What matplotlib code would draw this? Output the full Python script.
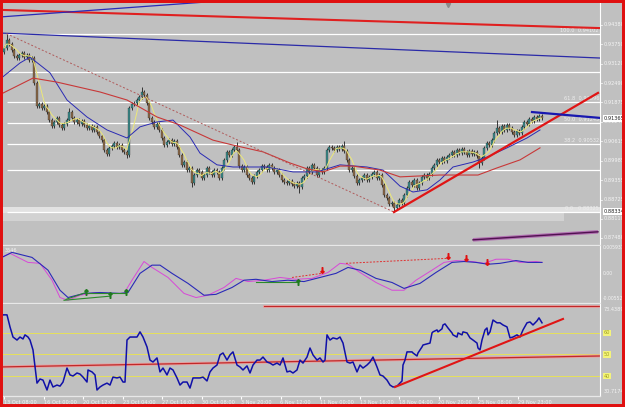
import matplotlib
matplotlib.use("Agg")
import matplotlib.pyplot as plt
import matplotlib.transforms as mtransforms
from matplotlib.patches import Rectangle
import numpy as np
import pandas as pd

# ---- price panel (x = bar number, 4H candles) ----
first_open = 0.9352
closes = [
    0.9363, 0.9389, 0.9376, 0.9357, 0.9338, 0.9331, 0.9341, 0.9347, 0.9334, 0.9341,
    0.9325, 0.9331, 0.9250, 0.9176, 0.9182, 0.9169, 0.9176, 0.9156, 0.9130, 0.9111,
    0.9124, 0.9137, 0.9114, 0.9105, 0.9117, 0.9130, 0.9156, 0.9137, 0.9124, 0.9130,
    0.9117, 0.9127, 0.9114, 0.9105, 0.9111, 0.9098, 0.9108, 0.9091, 0.9078, 0.9065,
    0.9033, 0.9020, 0.9040, 0.9046, 0.9056, 0.9043, 0.9049, 0.9033, 0.9027, 0.9017,
    0.9169, 0.9182, 0.9185, 0.9195, 0.9205, 0.9221, 0.9211, 0.9185, 0.9137, 0.9124,
    0.9108, 0.9117, 0.9098, 0.9072, 0.9049, 0.9059, 0.9065, 0.9052, 0.9062, 0.9043,
    0.9017, 0.8985, 0.8994, 0.8968, 0.8975, 0.8926, 0.8952, 0.8968, 0.8962, 0.8942,
    0.8952, 0.8975, 0.8962, 0.8952, 0.8968, 0.8962, 0.8942, 0.8975, 0.9001, 0.9027,
    0.9017, 0.9033, 0.9043, 0.9033, 0.8981, 0.8968, 0.8978, 0.8952, 0.8942, 0.8929,
    0.8949, 0.8962, 0.8968, 0.8981, 0.8978, 0.8968, 0.8985, 0.8975, 0.8962, 0.8968,
    0.8952, 0.8936, 0.8929, 0.8926, 0.8933, 0.8923, 0.8916, 0.8926, 0.8913, 0.8942,
    0.8949, 0.8975, 0.8962, 0.8985, 0.8975, 0.8952, 0.8968, 0.8962, 0.8975, 0.9033,
    0.9043, 0.9040, 0.9033, 0.9043, 0.9036, 0.9046, 0.9030, 0.9001, 0.8968, 0.8975,
    0.8949, 0.8926, 0.8936, 0.8942, 0.8952, 0.8936, 0.8946, 0.8955, 0.8962, 0.8942,
    0.8952, 0.8920, 0.8887, 0.8878, 0.8858, 0.8861, 0.8845, 0.8855, 0.8871, 0.8861,
    0.8887, 0.8910, 0.8929, 0.8920, 0.8936, 0.8910, 0.8926, 0.8946, 0.8952, 0.8942,
    0.8955, 0.8975, 0.8985, 0.9001, 0.8994, 0.9007, 0.8997, 0.9010, 0.9017, 0.9027,
    0.9017, 0.9033, 0.9023, 0.9036, 0.9027, 0.9017, 0.9030, 0.9020, 0.9027, 0.9014,
    0.8991, 0.9007, 0.9040, 0.9056, 0.9049, 0.9065, 0.9088, 0.9105, 0.9091, 0.9111,
    0.9098, 0.9114, 0.9105, 0.9091, 0.9082, 0.9095, 0.9088, 0.9108, 0.9124, 0.9117,
    0.9134, 0.9127, 0.9140, 0.9134, 0.9143, 0.9137,
]
high_marks = {1: 0.9410, 26: 0.9169, 55: 0.9237, 93: 0.9059, 136: 0.9062, 197: 0.9130}
low_marks = {49: 0.9007, 75: 0.8913, 118: 0.8894, 156: 0.8832, 190: 0.8975}

red_ma_bars = [-2, 11.6, 21.2, 38.4, 49.2, 61.2, 70.4, 83.6, 91.6, 103.6, 114.4,
               121.2, 127.6, 134.4, 139.6, 150.4, 158.4, 174.4, 189.6, 197.2, 206.4, 214.4]
red_ma_vals = [0.9211, 0.9266, 0.9253, 0.9221, 0.9195, 0.9140, 0.9114, 0.9065, 0.9049,
               0.9027, 0.8991, 0.8972, 0.8962, 0.8981, 0.8981, 0.8968, 0.8946, 0.8952,
               0.8952, 0.8975, 0.9001, 0.9040]
blue_ma_bars = [-2, 6.4, 10.4, 18.4, 25.2, 33.2, 41.2, 49.2, 54.4, 61.2, 67.6, 74.4,
                78.4, 85.2, 91.6, 105.2, 115.6, 125.2, 134.4, 145.2, 151.6, 158.4,
                163.6, 169.2, 174.4, 179.6, 187.6, 193.2, 201.2, 209.2, 214.4]
blue_ma_vals = [0.9260, 0.9315, 0.9334, 0.9283, 0.9195, 0.9140, 0.9098, 0.9072, 0.9108,
                0.9124, 0.9130, 0.9075, 0.9023, 0.8985, 0.8978, 0.8978, 0.8962, 0.8962,
                0.8985, 0.8978, 0.8968, 0.8916, 0.8897, 0.8904, 0.8936, 0.8978, 0.8994,
                0.9010, 0.9040, 0.9072, 0.9098]

fib_levels = [0.88325, 0.89688, 0.90532, 0.91214, 0.91896, 0.92866, 0.94102]
fib_labels = {0.88325: "0.0   0.88325", 0.90532: "38.2  0.90532",
              0.91214: "50.0  0.91245", 0.91896: "61.8  0.91896",
              0.94102: "100.0  0.94102"}

# trend lines (bar, price anchors)
red_top_line = ([-1.6, 238.4], [0.9487, 0.9428])
blue_top_line = ([-1.6, 80], [0.9464, 0.9512])
blue_long_line = ([-1.6, 238.4], [0.9412, 0.9331])
dashed_line = ([1, 156], [0.9410, 0.8832])
red_up_line = ([156, 237.6], [0.8832, 0.9218])
blue_short_line = ([211.2, 238.4], [0.9156, 0.9137])
purple_line = ([187.6, 237.6], [0.8742, 0.8768])

price_ticks = [0.94380, 0.93750, 0.93120, 0.92490, 0.91875, 0.91245,
               0.90615, 0.89985, 0.89355, 0.88725, 0.88110, 0.87480]
last_price = 0.91365
zone_price = 0.88334

# ---- oscillator panel ----
osc_blue_bars = [-1.6, 3.2, 11.2, 17.6, 22.4, 25.6, 32, 38.4, 46.4, 49.6, 54.4, 59.2,
                 62.4, 67.2, 73.6, 80, 84.8, 91.2, 96, 100.8, 107.2, 113.6, 120, 126.4,
                 132.8, 137.6, 142.4, 148.8, 155.2, 160, 166.4, 172.8, 179.2, 184,
                 188.8, 193.6, 198.4, 204.8, 209.6, 215.2]
osc_blue_vals = [0.0033, 0.0046, 0.0035, 0.0007, -0.0037, -0.0053, -0.0044, -0.0042,
                 -0.0044, -0.0042, 0.0, 0.0018, 0.0018, 0.0, -0.0022, -0.0048, -0.0046,
                 -0.0031, -0.0015, -0.0013, -0.0018, -0.0015, -0.0018, -0.0009, 0.0,
                 0.0013, 0.0007, -0.0011, -0.0020, -0.0033, -0.0022, 0.0002, 0.0024,
                 0.0026, 0.0024, 0.0020, 0.0022, 0.0028, 0.0024, 0.0024]
osc_pink_bars = [-1.6, 2.4, 9.6, 14.4, 19.2, 22.4, 25.6, 30.4, 36.8, 43.2, 48, 51.2, 56,
                 59.2, 65.6, 72, 76.8, 81.6, 88, 92.8, 97.6, 104, 110.4, 116.8, 123.2,
                 129.6, 134.4, 137.6, 142.4, 148.8, 155.2, 160, 164.8, 171.2, 176,
                 180.8, 187.2, 192, 196.8, 201.6, 206.4, 212.8, 215.2]
osc_pink_vals = [0.0033, 0.0044, 0.0024, 0.0022, -0.0015, -0.0053, -0.0059, -0.0048,
                 -0.0042, -0.0044, -0.0044, -0.0015, 0.0026, 0.0013, -0.0009, -0.0044,
                 -0.0053, -0.0048, -0.0031, -0.0011, -0.0018, -0.0015, -0.0009, -0.0013,
                 -0.0011, 0.0002, 0.0022, 0.0020, 0.0002, -0.0020, -0.0037, -0.0037,
                 -0.0015, 0.0007, 0.0024, 0.0028, 0.0026, 0.0022, 0.0031, 0.0031,
                 0.0024, 0.0026, 0.0024]
green_div = [([24, 42.4], [-0.0059, -0.0050]), ([24.8, 32.8], [-0.0057, -0.0042]),
             ([32.8, 48.8], [-0.0042, -0.0042]), ([100.8, 117.6], [-0.0020, -0.0020])]
green_marks = ([32.8, 42.4, 48.8, 117.6], [-0.0040, -0.0048, -0.0040, -0.0020])
red_div = [([115.2, 127.2], [-0.0009, 0.0]), ([136.8, 177.6], [0.0022, 0.0033])]
red_marks = ([127.2, 177.6, 184.8, 193.2], [0.0007, 0.0037, 0.0033, 0.0024])

# ---- RSI panel ----
rsi_bars = [-1.6, -0.4, 1.2, 2.4, 3.6, 5.2, 6.4, 7.6, 8.4, 9.6, 10.4, 11.6, 12.4, 13.2,
            14.4, 15.6, 17.2, 18.4, 19.6, 21.2, 22.4, 23.6, 25.2, 26.4, 27.6, 29.2,
            30.4, 31.6, 33.2, 33.6, 35.2, 36.4, 37.2, 38.4, 39.6, 41.2, 42.4, 43.6,
            45.2, 46.4, 47.6, 48.4, 49.2, 50.4, 51.6, 53.2, 54.4, 55.6, 57.2, 58.4,
            59.6, 61.2, 62.4, 63.6, 65.2, 66.4, 67.6, 69.2, 70.4, 71.6, 73.2, 74.4,
            75.6, 77.2, 78.4, 79.6, 81.2, 82.4, 83.6, 85.2, 86.4, 87.6, 89.2, 90.4,
            91.6, 93.2, 94.4, 95.6, 97.2, 98.4, 99.6, 101.2, 102.4, 103.6, 105.2,
            106.4, 107.6, 109.2, 110.4, 111.6, 113.2, 114.4, 115.6, 117.2, 118.4,
            119.6, 121.2, 122.4, 123.6, 125.2, 126.4, 127.6, 128.4, 129.2, 130.4,
            131.6, 133.2, 134.4, 135.6, 137.2, 138.4, 139.6, 141.2, 142.4, 143.6,
            145.2, 146.4, 147.6, 149.2, 150.4, 151.6, 153.2, 154.4, 155.6, 157.2,
            158.4, 159.2, 159.6, 160.4, 161.2, 161.6, 163.2, 163.6, 165.2, 165.6,
            167.2, 167.6, 169.2, 170.4, 171.2, 171.6, 173.2, 173.6, 175.2, 175.6,
            176.4, 177.6, 179.2, 179.6, 181.2, 181.6, 183.2, 183.6, 185.2, 186.4,
            187.6, 189.2, 189.6, 190.4, 191.2, 192.4, 193.2, 193.6, 194.4, 195.6,
            197.2, 198.4, 199.6, 201.2, 202.4, 203.6, 205.2, 206.4, 207.6, 209.2,
            210.4, 211.6, 213.2, 214, 215.2]
rsi_vals = [67.0, 68.4, 68.4, 62.8, 58.1, 56.7, 58.1, 57.2, 59.1, 58.1, 56.7, 52.1, 44.2,
            36.7, 38.6, 38.1, 33.5, 38.1, 34.9, 35.8, 35.3, 37.2, 43.7, 40.5, 40.0, 41.4,
            40.9, 39.5, 37.2, 42.8, 41.9, 40.5, 33.5, 34.9, 35.8, 36.7, 35.8, 39.5, 39.1,
            39.5, 37.2, 37.2, 56.7, 58.1, 58.1, 58.1, 60.5, 58.1, 53.5, 47.4, 46.5, 48.4,
            41.9, 43.7, 40.5, 43.7, 42.8, 39.1, 35.8, 37.2, 37.2, 34.4, 39.1, 39.1, 39.1,
            39.5, 37.7, 41.9, 43.7, 45.1, 49.8, 50.7, 47.4, 49.8, 51.2, 45.1, 44.2, 42.8,
            44.7, 41.4, 45.1, 47.4, 47.4, 48.8, 46.5, 46.0, 45.1, 46.0, 45.1, 48.4, 41.9,
            42.3, 41.4, 42.8, 47.4, 46.0, 48.8, 53.0, 49.8, 47.4, 48.4, 46.5, 47.4, 59.1,
            56.7, 57.7, 57.2, 58.1, 55.3, 46.5, 46.0, 46.5, 41.9, 45.1, 43.7, 45.1, 46.5,
            48.8, 44.2, 40.5, 40.0, 38.1, 35.8, 34.9, 35.3, 36.7, 37.7, 45.1, 47.4, 51.2,
            51.2, 51.2, 50.7, 49.3, 50.7, 53.5, 54.4, 54.9, 55.3, 60.0, 60.5, 61.4, 60.5,
            61.9, 63.7, 64.2, 62.3, 60.0, 59.1, 58.1, 60.0, 59.1, 60.5, 60.0, 57.7, 56.7,
            55.3, 53.0, 52.1, 56.7, 61.4, 62.3, 59.1, 60.5, 66.0, 64.7, 64.7, 63.7, 62.8,
            57.7, 58.1, 59.1, 58.1, 61.4, 64.7, 65.1, 63.7, 65.6, 67.0, 64.7]
rsi_levels = [40, 50, 60]
rsi_ma_line = ([-1.6, 238.4], [44.2, 49.3])
rsi_top_line = ([104, 240], [72.6, 72.6])
rsi_up_line = ([156.4, 223.6], [34.9, 66.5])
rsi_range = (30.7174, 73.4389)

time_ticks = [15.8 * k for k in range(14)]
time_labels = ["13 Oct 08:00", "16 Oct 00:00", "20 Oct 12:00", "23 Oct 04:00",
               "27 Oct 16:00", "30 Oct 08:00", "3 Nov 20:00", "6 Nov 12:00",
               "11 Nov 00:00", "13 Nov 16:00", "18 Nov 04:00", "20 Nov 20:00",
               "25 Nov 08:00", "29 Nov 23:00"]

BG = "#c0c0c0"
TXT = "#f4f4f4"
FS = 3.6
W, H = 625, 407

fig = plt.figure(figsize=(W / 100, H / 100), dpi=100, facecolor=BG)


def panel(top, bottom):
    ax = fig.add_axes([3 / W, 1 - bottom / H, 597 / W, (bottom - top) / H])
    ax.set_facecolor(BG)
    for s in ["top", "left"]:
        ax.spines[s].set_visible(False)
    ax.spines["right"].set_color("white")
    ax.spines["bottom"].set_color("#e8e8e8")
    ax.spines["right"].set_linewidth(0.8)
    ax.spines["bottom"].set_linewidth(0.9)
    ax.set_xlim(-0.4, 238.4)
    ax.set_yticks([])
    ax.set_xticks([])
    return ax


ax_p = panel(2, 245)
ax_o = panel(246, 303)
ax_r = panel(304, 396)

# ---------------- price panel ----------------
ax_p.set_ylim(0.87253, 0.95125)
pt = mtransforms.blended_transform_factory(ax_p.transAxes, ax_p.transData)

ax_p.add_patch(Rectangle((-1, 0.8829), 241, 0.00195, color="#e2e2e2", lw=0, zorder=0.5))
ax_p.add_patch(Rectangle((-1, 0.88035), 225, 0.00255, color="#d2d2d2", lw=0, zorder=0.5))
ax_p.hlines(fib_levels, 1, 240, color="white", lw=0.9, zorder=1)
for lv, lab in fib_labels.items():
    ax_p.text(238, lv + 0.0002, lab, ha="right", va="bottom", fontsize=FS,
              color="#eeeeee", zorder=1)

c = np.array(closes)
o = np.concatenate([[first_open], c[:-1]])
idx = np.arange(len(c))
hi = np.maximum(o, c) + 0.0007
lo = np.minimum(o, c) - 0.0007
for k, v in high_marks.items():
    hi[k] = v
for k, v in low_marks.items():
    lo[k] = v
up = c >= o
body = np.maximum(np.abs(c - o), 0.00015)
ax_p.vlines(idx, lo, hi, color="#1e1e1e", lw=0.6, zorder=2)
ax_p.bar(idx[up], body[up], bottom=o[up], width=0.8, color="#3a8a8a",
         edgecolor="#1e1e1e", linewidth=0.2, zorder=2.5)
ax_p.bar(idx[~up], body[~up], bottom=c[~up], width=0.8, color="#8b6949",
         edgecolor="#1e1e1e", linewidth=0.2, zorder=2.5)

yellow = pd.Series(closes).rolling(5, min_periods=1).mean()
ax_p.plot(idx, yellow, color="#ece878", lw=0.7, zorder=3)
ax_p.plot(blue_ma_bars, blue_ma_vals, color="#2a2ab4", lw=0.7, zorder=3)
ax_p.plot(red_ma_bars, red_ma_vals, color="#c83838", lw=0.8, zorder=3)

ax_p.plot(*red_top_line, color="#e02020", lw=1.5, zorder=4)
ax_p.plot(*blue_top_line, color="#2a2ab8", lw=0.9, zorder=4)
ax_p.plot(*blue_long_line, color="#2a2aa8", lw=0.9, zorder=4)
ax_p.plot(*dashed_line, color="#b05a5a", lw=0.7, ls=(0, (2, 2)), zorder=4)
ax_p.plot(*red_up_line, color="#e01515", lw=1.6, zorder=4)
ax_p.plot(*blue_short_line, color="#1818b0", lw=1.6, zorder=4)
ax_p.plot(*purple_line, color="#b070b0", lw=2.6, zorder=4, solid_capstyle="butt")
ax_p.plot(*purple_line, color="#501050", lw=1.0, zorder=4.1)
ax_p.plot([177.6], [0.9502], marker="v", ms=3, color="#8a8a8a", zorder=4)

for v in price_ticks:
    ax_p.text(1.006, v, f"{v:.5f}", transform=pt, fontsize=FS, color=TXT,
              va="center", ha="left", clip_on=False)
    ax_p.plot([1.0, 1.004], [v, v], transform=pt, color="white", lw=0.5, clip_on=False)
for v in (last_price, zone_price):
    ax_p.text(1.006, v, f"{v:.5f}", transform=pt, fontsize=FS, color="#202020",
              va="center", ha="left", clip_on=False,
              bbox=dict(boxstyle="square,pad=0.2", fc="white", ec="none"))

# ---------------- oscillator panel ----------------
ax_o.set_ylim(-0.0065, 0.0060)
ot = mtransforms.blended_transform_factory(ax_o.transAxes, ax_o.transData)
ax_o.plot(osc_pink_bars, osc_pink_vals, color="#d848d8", lw=0.7, zorder=3)
ax_o.plot(osc_blue_bars, osc_blue_vals, color="#2a2ab8", lw=0.8, zorder=3)
for xs, ys in green_div:
    ax_o.plot(xs, ys, color="#2a8a2a", lw=0.8, zorder=4)
ax_o.plot(*green_marks, ls="none", marker=r"$\uparrow$", ms=4, color="#1f7a1f", zorder=5)
for xs, ys in red_div:
    ax_o.plot(xs, ys, color="#e03030", lw=0.7, ls=(0, (2, 1.5)), zorder=4)
ax_o.plot(*red_marks, ls="none", marker=r"$\downarrow$", ms=4, color="#e01010", zorder=5)
ax_o.text(0.002, 0.92, "3546", transform=ax_o.transAxes, fontsize=FS, color=TXT,
          va="center", ha="left")
for v, lab in [(0.0057, "0.005937"), (0.0, "0.00"), (-0.00552, "-0.00552")]:
    ax_o.text(1.004, v, lab, transform=ot, fontsize=3.3, color=TXT, va="center",
              ha="left", clip_on=False)

# ---------------- RSI panel ----------------
ax_r.set_ylim(*rsi_range)
rt = mtransforms.blended_transform_factory(ax_r.transAxes, ax_r.transData)
ax_r.hlines(rsi_levels, -1, 240, color="#e6e05a", lw=0.7, zorder=1)
ax_r.plot(*rsi_ma_line, color="#e8a0a0", lw=2.2, zorder=2)
ax_r.plot(*rsi_ma_line, color="#c02828", lw=0.9, zorder=2.1)
ax_r.plot(*rsi_top_line, color="#e8a0a0", lw=2.0, zorder=2)
ax_r.plot(*rsi_top_line, color="#c02828", lw=0.8, zorder=2.1)
ax_r.plot(rsi_bars, rsi_vals, color="#1010a8", lw=1.1, zorder=3)
ax_r.plot(*rsi_up_line, color="#e01515", lw=1.5, zorder=4)
for lv in rsi_levels:
    ax_r.text(1.006, lv, str(lv), transform=rt, fontsize=FS, color="#a0a020",
              va="center", ha="left", clip_on=False,
              bbox=dict(boxstyle="square,pad=0.15", fc="#f4f47a", ec="none"))
ax_r.text(1.006, 70.8, f"{rsi_range[1]:.4f}", transform=rt, fontsize=FS, color=TXT,
          va="center", ha="left", clip_on=False)
ax_r.text(1.006, 32.8, f"{rsi_range[0]:.4f}", transform=rt, fontsize=FS, color=TXT,
          va="center", ha="left", clip_on=False)

ax_r.set_xticks(time_ticks)
ax_r.set_xticklabels(time_labels)
for lab in ax_r.get_xticklabels():
    lab.set_horizontalalignment("left")
ax_r.tick_params(axis="x", length=2, color="white", labelsize=FS, labelcolor=TXT, pad=1)

# red frame round the whole window
fig.patches.append(Rectangle((0, 0), 1, 1, transform=fig.transFigure, fill=False,
                             edgecolor="#e01010", lw=4.3))

fig.savefig("out.png", dpi=100, facecolor=BG)
